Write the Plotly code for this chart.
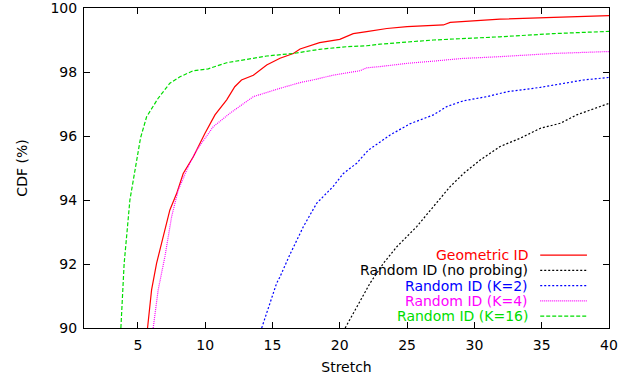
import plotly.graph_objects as go

# ---- data ----
geo_x = [5.72, 6.02, 6.39, 6.77, 7.38, 7.88, 8.37, 9.12, 9.98, 10.73, 11.6, 12.2, 12.7, 13.58,
         14.57, 15.56, 16.55, 17.05, 18.5, 20.0, 21.0, 22.0, 23.5, 25.0, 27.7, 28.2, 30.0, 31.9, 35.9, 40.0]
geo_y = [90, 91.19, 92.02, 92.65, 93.69, 94.2, 94.83, 95.35, 96.08, 96.66, 97.13, 97.54, 97.75, 97.9,
         98.22, 98.43, 98.58, 98.72, 98.92, 99.02, 99.2, 99.26, 99.36, 99.42, 99.47, 99.55, 99.6, 99.65, 99.71, 99.76]

noprobe_x = [20.4, 21.26, 22.25, 23.24, 24.24, 25.72, 27.21, 28.2, 29.2, 30.43, 31.9, 33.4, 34.9, 36.4, 37.6, 40.0]
noprobe_y = [90, 90.67, 91.4, 92.02, 92.54, 93.17, 93.9, 94.42, 94.83, 95.25, 95.67, 95.93, 96.24, 96.4, 96.66, 97.02]

k2_x = [14.2, 14.82, 15.31, 15.56, 16.3, 17.3, 18.29, 19.5, 20.27, 21.26, 22.13, 23.74, 25.2, 26.96,
        27.95, 29.19, 30.93, 32.4, 34.9, 38.1, 40.0]
k2_y = [90, 90.77, 91.4, 91.6, 92.3, 93.17, 93.9, 94.42, 94.83, 95.15, 95.56, 96.03, 96.38, 96.66,
        96.92, 97.1, 97.23, 97.38, 97.52, 97.75, 97.83]

k4_x = [6.14, 6.51, 7.01, 7.51, 8.0, 8.74, 9.37, 10.0, 10.6, 11.84, 13.58, 15.56, 17.05, 18.0, 19.5,
        21.5, 22.0, 23.0, 25.0, 26.96, 29.0, 31.9, 35.9, 40.0]
k4_y = [90, 91.19, 92.23, 93.48, 94.31, 95.04, 95.56, 95.95, 96.29, 96.71, 97.23, 97.49, 97.67, 97.75, 97.9,
        98.04, 98.13, 98.17, 98.27, 98.34, 98.42, 98.48, 98.58, 98.64]

k16_x = [3.74, 3.98, 4.41, 5.08, 5.2, 5.65, 6.51, 7.38, 8.13, 9.12, 10.23, 11.6, 13.09, 14.57, 16.55,
         18.5, 20.5, 22.0, 23.0, 26.96, 31.9, 35.9, 40.0]
k16_y = [90, 92, 94, 95.56, 95.94, 96.6, 97.18, 97.65, 97.85, 98.04, 98.1, 98.29, 98.4, 98.5, 98.58,
         98.71, 98.79, 98.82, 98.87, 99.0, 99.1, 99.2, 99.27]

series_names = ["Geometric ID", "Random ID (no probing)", "Random ID (K=2)", "Random ID (K=4)", "Random ID (K=16)"]
series_x = [geo_x, noprobe_x, k2_x, k4_x, k16_x]
series_y = [geo_y, noprobe_y, k2_y, k4_y, k16_y]
colors = ["#ff0000", "#000000", "#0000ff", "#ff00ff", "#00dd00"]
dashes = ["solid", "2px,2px", "2px,2px", "1px,1px", "4px,2px"]

x_ticks = [5, 10, 15, 20, 25, 30, 35, 40]
y_ticks = [90, 92, 94, 96, 98, 100]

FONT = "DejaVu Sans, Liberation Sans, Arial, sans-serif"

fig = go.Figure()
for name, xs, ys, c, d in zip(series_names, series_x, series_y, colors, dashes):
    fig.add_trace(go.Scatter(x=xs, y=ys, mode="lines", name=name,
                             line=dict(color=c, width=1.2, dash=d), showlegend=False))

# legend in gnuplot style: right-aligned coloured text with sample line at right
row0 = 0.228
row_step = 0.0477
for i, (name, c, d) in enumerate(zip(series_names, colors, dashes)):
    yy = row0 - i * row_step
    fig.add_annotation(x=0.848, y=yy, xref="paper", yref="paper", text=name,
                       showarrow=False, xanchor="right", yanchor="middle", borderpad=0,
                       font=dict(family=FONT, size=14, color=c))
    fig.add_shape(type="line", xref="paper", yref="paper", x0=0.869, x1=0.958, y0=yy, y1=yy,
                  line=dict(color=c, width=1.2, dash=d))

axis_common = dict(showline=True, linecolor="black", linewidth=1, mirror="ticks",
                   ticks="inside", ticklen=6, tickcolor="black", showgrid=False, zeroline=False,
                   automargin=False, ticklabeloverflow="allow",
                   tickfont=dict(family=FONT, size=14, color="black"))

fig.update_xaxes(range=[1, 40], tickvals=x_ticks, ticklabelstandoff=4,
                 title=dict(text="Stretch", standoff=10,
                            font=dict(family=FONT, size=14, color="black")), **axis_common)
fig.update_yaxes(range=[90, 100], tickvals=y_ticks, ticklabelstandoff=3,
                 title=dict(text="CDF (%)", standoff=19,
                            font=dict(family=FONT, size=14, color="black")), **axis_common)

fig.update_layout(width=632, height=376, margin=dict(l=84, r=23, t=8, b=48),
                  paper_bgcolor="white", plot_bgcolor="white")

fig.write_html("out.html", config={"displayModeBar": False},
               post_script="document.body.style.margin='0px';")
